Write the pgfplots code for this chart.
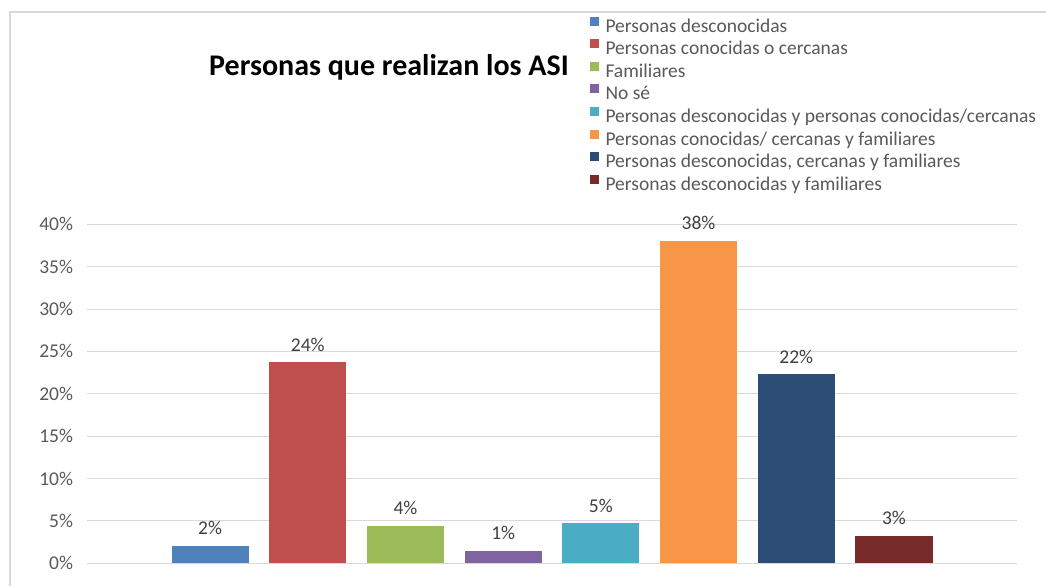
\documentclass[border=0pt]{standalone}
\usepackage{fontspec}
\setmainfont{Carlito}
\usepackage{pgfplots}
\pgfplotsset{compat=1.18}

\definecolor{cA}{HTML}{4F81BD}
\definecolor{cB}{HTML}{C0504D}
\definecolor{cC}{HTML}{9BBB59}
\definecolor{cD}{HTML}{8064A2}
\definecolor{cE}{HTML}{4BACC6}
\definecolor{cF}{HTML}{F79646}
\definecolor{cG}{HTML}{2C4D75}
\definecolor{cH}{HTML}{772C2A}
\definecolor{gridgray}{HTML}{D9D9D9}
\definecolor{tickgray}{HTML}{595959}
\definecolor{labelgray}{HTML}{404040}

\begin{document}
\begin{tikzpicture}[x=1pt,y=1pt]
\path[use as bounding box] (0,0) rectangle (1046,586);
\draw[color=black!15, line width=1.3pt] (10,0) -- (10,574) -- (1046,574);
\node[anchor=base, font=\bfseries\fontsize{30}{34}\selectfont] at (389,510.3) {Personas que realizan los ASI};

\begin{axis}[
    at={(87pt,22.7pt)}, anchor=south west,
    scale only axis, width=930pt, height=339pt,
    ymin=0, ymax=40, xmin=-1.26, xmax=8.26,
    ytick={0,5,10,15,20,25,30,35,40},
    yticklabels={0\%,5\%,10\%,15\%,20\%,25\%,30\%,35\%,40\%},
    xtick=\empty,
    axis line style={draw=none},
    major tick length=0pt,
    ymajorgrids,
    grid style={draw=gridgray, line width=1pt},
    yticklabel style={font=\fontsize{19.5}{23}\selectfont, text=tickgray, xshift=-10.5pt},
    ybar, bar width=0.79, bar shift=0pt,
    nodes near coords={\pgfmathprintnumber[fixed,precision=0]{\pgfplotspointmeta}\%},
    every node near coord/.append style={font=\fontsize{19.5}{23}\selectfont, text=labelgray, yshift=7.5pt},
    /pgf/number format/assume math mode=true,
    clip=false,
    legend cell align=left,
    legend style={draw=none, fill=none, inner sep=0pt, outer sep=0pt,
        at={(0.5409,1.6125)}, anchor=north west,
        font=\fontsize{19.5}{23}\selectfont, text=tickgray,
        nodes={inner sep=0pt, text height=13pt, text depth=4pt},
        row sep=3.1pt,
        /tikz/every odd column/.append style={column sep=6.5pt}},
    legend image code/.code={\fill[#1] (0pt,2pt) rectangle (9pt,11pt);},
]
\addplot[fill=cA, draw=none] coordinates {(0,2.08)};
\addplot[fill=cB, draw=none] coordinates {(1,23.7)};
\addplot[fill=cC, draw=none] coordinates {(2,4.4)};
\addplot[fill=cD, draw=none] coordinates {(3,1.49)};
\addplot[fill=cE, draw=none] coordinates {(4,4.72)};
\addplot[fill=cF, draw=none] coordinates {(5,38.05)};
\addplot[fill=cG, draw=none] coordinates {(6,22.3)};
\addplot[fill=cH, draw=none] coordinates {(7,3.26)};
\legend{Personas desconocidas,
    Personas conocidas o cercanas,
    Familiares,
    No sé,
    Personas desconocidas y personas conocidas/cercanas,
    Personas conocidas/ cercanas y familiares,
    {Personas desconocidas, cercanas y familiares},
    Personas desconocidas y familiares}
\end{axis}
\end{tikzpicture}
\end{document}
